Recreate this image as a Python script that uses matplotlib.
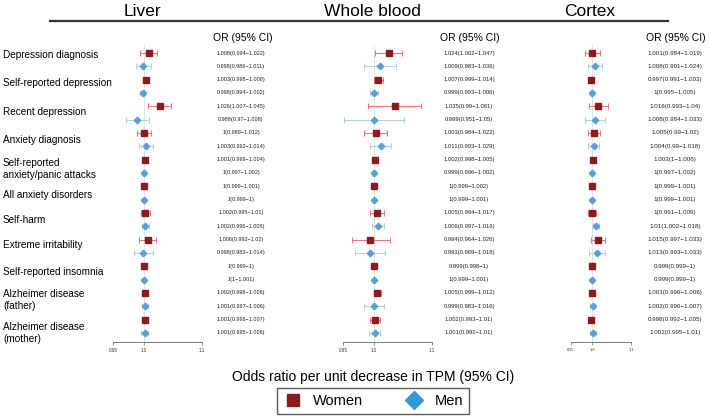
import matplotlib
matplotlib.use("Agg")
import matplotlib.pyplot as plt
from matplotlib.lines import Line2D
from matplotlib.ticker import NullLocator, FixedLocator, FixedFormatter

plt.rcParams['font.family'] = ['Liberation Sans', 'DejaVu Sans']

# ---------------- data ----------------
categories = [
    "Depression diagnosis", "Self-reported depression", "Recent depression",
    "Anxiety diagnosis", "Self-reported\nanxiety/panic attacks", "All anxiety disorders",
    "Self-harm", "Extreme irritability", "Self-reported insomnia",
    "Alzheimer disease\n(father)", "Alzheimer disease\n(mother)",
]
tissues = ["Liver", "Whole blood", "Cortex"]

liver_women_or = [1.008, 1.003, 1.026, 1, 1.001, 1, 1.002, 1.006, 1, 1.002, 1.001]
liver_women_lo = [0.994, 0.998, 1.007, 0.989, 0.999, 0.999, 0.995, 0.992, 0.999, 0.998, 0.996]
liver_women_hi = [1.022, 1.008, 1.045, 1.012, 1.004, 1.001, 1.01, 1.02, 1, 1.006, 1.007]
liver_men_or = [0.998, 0.998, 0.988, 1.003, 1, 1, 1.002, 0.998, 1, 1.001, 1.001]
liver_men_lo = [0.986, 0.994, 0.97, 0.992, 0.997, 0.999, 0.996, 0.983, 1, 0.997, 0.995]
liver_men_hi = [1.011, 1.002, 1.008, 1.014, 1.002, 1, 1.008, 1.014, 1.001, 1.006, 1.006]

blood_women_or = [1.024, 1.007, 1.035, 1.003, 1.002, 1, 1.005, 0.994, 0.999, 1.005, 1.002]
blood_women_lo = [1.002, 0.999, 0.99, 0.984, 0.998, 0.999, 0.994, 0.964, 0.998, 0.999, 0.993]
blood_women_hi = [1.047, 1.014, 1.081, 1.022, 1.005, 1.002, 1.017, 1.026, 1, 1.012, 1.01]
blood_men_or = [1.009, 0.999, 0.999, 1.011, 0.999, 1, 1.006, 0.993, 1, 0.999, 1.001]
blood_men_lo = [0.983, 0.993, 0.951, 0.993, 0.996, 0.999, 0.997, 0.969, 0.999, 0.983, 0.992]
blood_men_hi = [1.036, 1.006, 1.05, 1.029, 1.002, 1.001, 1.016, 1.018, 1.001, 1.016, 1.01]

cortex_women_or = [1.001, 0.997, 1.016, 1.005, 1.003, 1, 1, 1.015, 0.999, 1.001, 0.998]
cortex_women_lo = [0.984, 0.991, 0.993, 0.99, 1, 0.999, 0.991, 0.997, 0.999, 0.996, 0.992]
cortex_women_hi = [1.019, 1.003, 1.04, 1.02, 1.006, 1.001, 1.009, 1.033, 1, 1.006, 1.005]
cortex_men_or = [1.008, 1, 1.008, 1.004, 1, 1, 1.01, 1.013, 0.999, 1.002, 1.002]
cortex_men_lo = [0.991, 0.995, 0.984, 0.99, 0.997, 0.999, 1.002, 0.993, 0.999, 0.996, 0.995]
cortex_men_hi = [1.024, 1.005, 1.033, 1.018, 1.002, 1.001, 1.018, 1.033, 1, 1.007, 1.01]

x_ticks = [0.95, 1.0, 1.1]
x_tick_labels = ["0.95", "1.0", "1.1"]

# ---------------- layout ----------------
W, H = 709, 418
fig = plt.figure(figsize=(W / 100, H / 100), dpi=100)

def fx(px):
    return px / W

def fy(py):
    return 1 - py / H

women_marker = "#8C1A1E"
women_bar = "#E8777A"
men_marker = "#55A2D8"
men_bar = "#A9D1F0"

row_top, row_step = 53.0, 13.33
ax_top_px, ax_bot_px = 45.0, 342.0
y_top = (ax_top_px - row_top) / row_step
y_bot = (ax_bot_px - row_top) / row_step

panels = [
    dict(name="Liver", x0=113, x1=202, title_x=142, or_x=243, val_x=241, val_fs=3.95, tick_fs=3.3,
         w=(liver_women_or, liver_women_lo, liver_women_hi), m=(liver_men_or, liver_men_lo, liver_men_hi)),
    dict(name="Whole blood", x0=343, x1=432, title_x=372, or_x=470, val_x=469, val_fs=4.2, tick_fs=3.3,
         w=(blood_women_or, blood_women_lo, blood_women_hi), m=(blood_men_or, blood_men_lo, blood_men_hi)),
    dict(name="Cortex", x0=571, x1=631, title_x=590, or_x=676, val_x=675, val_fs=4.5, tick_fs=2.8,
         w=(cortex_women_or, cortex_women_lo, cortex_women_hi), m=(cortex_men_or, cortex_men_lo, cortex_men_hi)),
]

def fmt(orv, lo, hi):
    return f"{orv:g}({lo:g}\u2212{hi:g})"

n = len(categories)
yw = [2 * i for i in range(n)]
ym = [2 * i + 1 for i in range(n)]

for p in panels:
    ax = fig.add_axes([fx(p["x0"]), fy(ax_bot_px), fx(p["x1"] - p["x0"]), (ax_bot_px - ax_top_px) / H])
    ax.set_xscale("log")
    ax.set_xlim(0.95, 1.1)
    ax.set_ylim(y_bot, y_top)
    for s in ("left", "right", "top"):
        ax.spines[s].set_visible(False)
    ax.spines["bottom"].set_color("#666666")
    ax.spines["bottom"].set_linewidth(0.6)
    ax.xaxis.set_major_locator(FixedLocator(x_ticks))
    ax.xaxis.set_major_formatter(FixedFormatter(x_tick_labels))
    ax.xaxis.set_minor_locator(NullLocator())
    ax.tick_params(axis="x", length=2.5, width=0.5, color="#666666", labelsize=p["tick_fs"], pad=2,
                   labelcolor="#333333")
    ax.set_yticks([])
    ax.patch.set_alpha(0)
    ax.axvline(1.0, color="#dddddd", lw=0.6, zorder=0)

    wo, wl, wh = p["w"]
    mo, ml, mh = p["m"]
    ax.errorbar(wo, yw, xerr=[[o - l for o, l in zip(wo, wl)], [h - o for o, h in zip(wo, wh)]],
                fmt="none", ecolor=women_bar, elinewidth=0.8, capsize=2.2, capthick=0.8, zorder=2)
    ax.errorbar(mo, ym, xerr=[[o - l for o, l in zip(mo, ml)], [h - o for o, h in zip(mo, mh)]],
                fmt="none", ecolor=men_bar, elinewidth=0.8, capsize=2.2, capthick=0.8, zorder=2)
    ax.plot(wo, yw, ls="none", marker="s", ms=4.6, color=women_marker, mec=women_marker, zorder=3)
    ax.plot(mo, ym, ls="none", marker="D", ms=3.3, color=men_marker, mec=men_marker, zorder=3)

    fig.text(fx(p["title_x"]), fy(12), p["name"], ha="center", va="center", fontsize=12.5)
    fig.text(fx(p["or_x"]), fy(38), "OR (95% CI)", ha="center", va="center", fontsize=7.5)
    for i in range(n):
        fig.text(fx(p["val_x"]), fy(row_top + yw[i] * row_step), fmt(wo[i], wl[i], wh[i]),
                 ha="center", va="center", fontsize=p["val_fs"], color="#222222")
        fig.text(fx(p["val_x"]), fy(row_top + ym[i] * row_step), fmt(mo[i], ml[i], mh[i]),
                 ha="center", va="center", fontsize=p["val_fs"], color="#222222")

# category labels
label_nudge = [-0.38, -0.22, -0.1, 0.0, 0.19, 0.15, 0.0, -0.1, -0.1, 0.0, 0.49]
for i, lab in enumerate(categories):
    yrow = yw[i] + 0.5 + label_nudge[i]
    fig.text(fx(3), fy(row_top + yrow * row_step), lab, ha="left", va="center",
             fontsize=7.2, linespacing=1.25)

# line under titles
fig.add_artist(Line2D([fx(50), fx(668)], [fy(21), fy(21)], color="#333333", lw=1.6))

# x-label
fig.text(fx(373), fy(377), "Odds ratio per unit decrease in TPM (95% CI)", ha="center", va="center", fontsize=10)

# legend
handles = [
    Line2D([], [], ls="none", marker="s", ms=9, color=women_marker, label="Women"),
    Line2D([], [], ls="none", marker="D", ms=9.5, color="#3399D0", label="Men"),
]
leg = fig.legend(handles=handles, loc="center", bbox_to_anchor=(fx(373), fy(401)), ncol=2,
                 frameon=True, fancybox=False, fontsize=10.5, handletextpad=0.7, columnspacing=2.8,
                 borderpad=0.4, handlelength=1.4)
leg.get_frame().set_edgecolor("#333333")
leg.get_frame().set_linewidth(1.0)

fig.savefig("out.png", dpi=100)
